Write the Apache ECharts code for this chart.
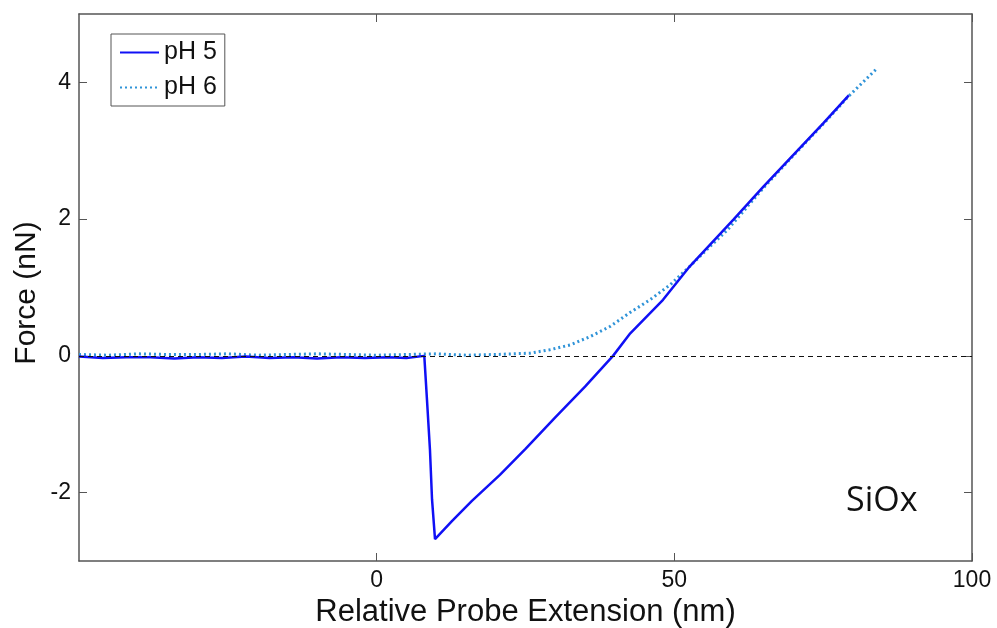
<!DOCTYPE html>
<html>
<head>
<meta charset="utf-8">
<script src="https://cdn.jsdelivr.net/npm/echarts@6/dist/echarts.min.js"></script>
<style>
  html, body { margin: 0; padding: 0; background: #fff; }
  #chart { width: 997px; height: 628px; }
</style>
</head>
<body>
<div id="chart"></div>
<script>
  // pH 5 curve (solid), extension in nm / force in nN
  var ph5X = [-50, -46, -42, -38, -34, -30, -26, -22, -18, -14, -10, -6, -2, 2, 5, 8,
              8.45, 8.95, 9.3, 9.8, 12.6, 16, 20.7, 25, 30, 35, 39.7, 42.6, 48.1, 52.6, 60, 65, 70, 75, 79.3];
  var ph5Y = [-0.01, -0.03, -0.02, -0.02, -0.04, -0.02, -0.03, -0.01, -0.03, -0.02, -0.04, -0.02, -0.03, -0.02, -0.03, 0.0,
              -0.64, -1.37, -2.10, -2.68, -2.42, -2.12, -1.74, -1.36, -0.90, -0.45, 0.0, 0.33, 0.82, 1.31, 2.00, 2.48, 2.94, 3.40, 3.81];

  // pH 6 curve (dotted)
  var ph6X = [-50, -45, -40, -35, -30, -25, -20, -15, -10, -5, 0, 5, 10, 15, 20, 25.8,
              29.1, 32.5, 35.8, 39.2, 42.5, 45.9, 49.3, 52.6, 56, 58.9, 65, 70, 75, 79.3, 84];
  var ph6Y = [0.02, 0.01, 0.03, 0.02, 0.02, 0.03, 0.01, 0.02, 0.03, 0.02, 0.01, 0.02, 0.03, 0.01, 0.02, 0.04,
              0.09, 0.16, 0.28, 0.43, 0.63, 0.82, 1.04, 1.31, 1.60, 1.84, 2.46, 2.93, 3.39, 3.80, 4.20];

  var xTicks = [0, 50, 100];
  var yTicks = [-2, 0, 2, 4];

  function pairs(xs, ys) {
    var out = [];
    for (var i = 0; i < xs.length; i++) out.push([xs[i], ys[i]]);
    return out;
  }

  var axisColor = '#555';
  var font = 'Liberation Sans';

  function xAxisOf(pos, labels) {
    return {
      type: 'value', position: pos, min: -50, max: 100,
      splitLine: { show: false },
      axisLine: { show: true, onZero: false, lineStyle: { color: axisColor, width: 1.5 } },
      axisTick: { show: true, inside: true, length: 8, customValues: xTicks, lineStyle: { color: axisColor } },
      axisLabel: { show: labels, customValues: xTicks, color: '#111', fontSize: 23, fontFamily: font, margin: 8 }
    };
  }
  function yAxisOf(pos, labels) {
    return {
      type: 'value', position: pos, min: -3, max: 5,
      splitLine: { show: false },
      axisLine: { show: true, onZero: false, lineStyle: { color: axisColor, width: 1.5 } },
      axisTick: { show: true, inside: true, length: 8, customValues: yTicks, lineStyle: { color: axisColor } },
      axisLabel: { show: labels, customValues: yTicks, color: '#111', fontSize: 23, fontFamily: font, margin: 8 }
    };
  }

  var xMain = xAxisOf('bottom', true);
  xMain.name = 'Relative Probe Extension (nm)';
  xMain.nameLocation = 'middle';
  xMain.nameGap = 32;
  xMain.nameTextStyle = { color: '#111', fontSize: 31, fontFamily: font };
  var xTop = xAxisOf('top', false);
  var yRight = yAxisOf('right', false);

  var chart = echarts.init(document.getElementById('chart'));
  chart.setOption({
    animation: false,
    backgroundColor: '#fff',
    grid: { left: 79, top: 14, right: 25, bottom: 67, outerBoundsMode: 'none', containLabel: false },
    xAxis: [xMain, xTop],
    yAxis: [yAxisOf('left', true), yRight],
    legend: {
      data: ['pH 5', 'pH 6'],
      orient: 'vertical',
      left: 111, top: 34,
      padding: [6, 8, 6, 8],
      itemWidth: 39, itemHeight: 14, itemGap: 10,
      itemStyle: { opacity: 0 },
      borderColor: '#555', borderWidth: 1, backgroundColor: '#fff',
      textStyle: { color: '#111', fontSize: 25, fontFamily: font, lineHeight: 24 }
    },
    graphic: [
      {
        type: 'text', x: 27, y: 293, rotation: Math.PI / 2,
        style: { text: 'Force (nN)', fill: '#111', font: '30px "Liberation Sans"', align: 'center', verticalAlign: 'middle' }
      },
      {
        type: 'text', left: 846, top: 484,
        style: { text: 'SiOx', fill: '#111', font: '34px "Open Sans"' }
      }
    ],
    series: [
      {
        name: 'pH 5', type: 'line', symbol: 'none', z: 4,
        data: pairs(ph5X, ph5Y),
        lineStyle: { color: '#1010f5', width: 2.5 },
        itemStyle: { color: '#1010f5' }
      },
      {
        name: 'pH 6', type: 'line', symbol: 'none', z: 3,
        data: pairs(ph6X, ph6Y),
        lineStyle: { color: '#2f93d8', width: 3, type: [2, 3] },
        itemStyle: { color: '#2f93d8' },
        markLine: {
          silent: true, symbol: 'none', label: { show: false },
          lineStyle: { color: '#111', type: [5, 4], width: 1 },
          data: [{ yAxis: 0 }]
        }
      }
    ]
  });
</script>
</body>
</html>
